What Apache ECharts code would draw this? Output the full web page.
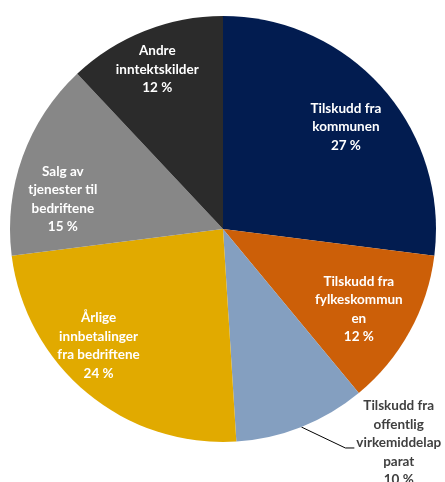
<!DOCTYPE html>
<html>
<head>
<meta charset="utf-8">
<script src="https://cdn.jsdelivr.net/npm/echarts@6/dist/echarts.min.js"></script>
<style>
  html, body { margin: 0; padding: 0; background: #ffffff; }
  #chart { width: 445px; height: 482px; }
</style>
</head>
<body>
<div id="chart"></div>
<script>
// Income sources (share of total, %)
const categories = [
  'Tilskudd fra\nkommunen',
  'Tilskudd fra\nfylkeskommun\nen',
  'Tilskudd fra\noffentlig\nvirkemiddelap\nparat',
  'Årlige\ninnbetalinger\nfra bedriftene',
  'Salg av\ntjenester til\nbedriftene',
  'Andre\ninntektskilder'
];
const shares = [27, 12, 10, 24, 15, 12];
const sliceColors = ['#021c50', '#cc5f08', '#849fc0', '#e1aa00', '#878787', '#2b2b2b'];

// Pie geometry
const CX = 223, CY = 229, R = 213;

// Label anchors: angle (deg, clockwise from 12 o'clock) and radius as fraction of R
const labelAnchors = [
  [50.3, 0.75],
  [120.5, 0.74],
  [140.6, 1.30],
  [226.9, 0.80],
  [280.6, 0.765],
  [337.6, 0.81]
];
const OUTSIDE = 2; // index of the slice labelled outside the pie

const total = shares.reduce((a, b) => a + b, 0);
function midAngle(i) {
  let before = 0;
  for (let k = 0; k < i; k++) before += shares[k];
  return (before + shares[i] / 2) / total * 360;
}
function polar(angleDeg, r) {
  const a = angleDeg * Math.PI / 180;
  return [CX + r * Math.sin(a), CY - r * Math.cos(a)];
}

const chart = echarts.init(document.getElementById('chart'), null, { renderer: 'canvas' });

const data = categories.map((name, i) => {
  const item = {
    name: name,
    value: shares[i],
    itemStyle: { color: sliceColors[i] }
  };
  if (i === OUTSIDE) {
    item.label = { position: 'outside', color: '#404040' };
    item.labelLine = { show: true };
  }
  return item;
});

chart.setOption({
  animation: false,
  backgroundColor: '#ffffff',
  series: [{
    type: 'pie',
    center: [CX, CY],
    radius: [0, R],
    startAngle: 90,
    clockwise: true,
    avoidLabelOverlap: false,
    data: data,
    itemStyle: { borderWidth: 0 },
    label: {
      show: true,
      position: 'inside',
      color: '#ffffff',
      fontFamily: 'Lato, "Open Sans", sans-serif',
      fontWeight: 'bold',
      fontSize: 13.5,
      lineHeight: 18.5,
      align: 'center',
      formatter: p => p.name + '\n' + p.value + ' %'
    },
    labelLine: {
      show: false,
      lineStyle: { color: '#000000', width: 1 }
    },
    emphasis: { disabled: true },
    labelLayout: function (params) {
      const i = params.dataIndex;
      const pos = polar(labelAnchors[i][0], labelAnchors[i][1] * R);
      const out = {
        x: pos[0],
        y: pos[1],
        align: 'center',
        verticalAlign: 'middle'
      };
      if (i === OUTSIDE) {
        const edge = polar(midAngle(i), R);
        const w = params.labelRect.width;
        const endX = pos[0] - w / 2 - 2;
        const endY = pos[1] + 5;
        out.labelLinePoints = [edge, [endX - 9, endY], [endX, endY]];
      }
      return out;
    }
  }]
});
</script>
</body>
</html>
